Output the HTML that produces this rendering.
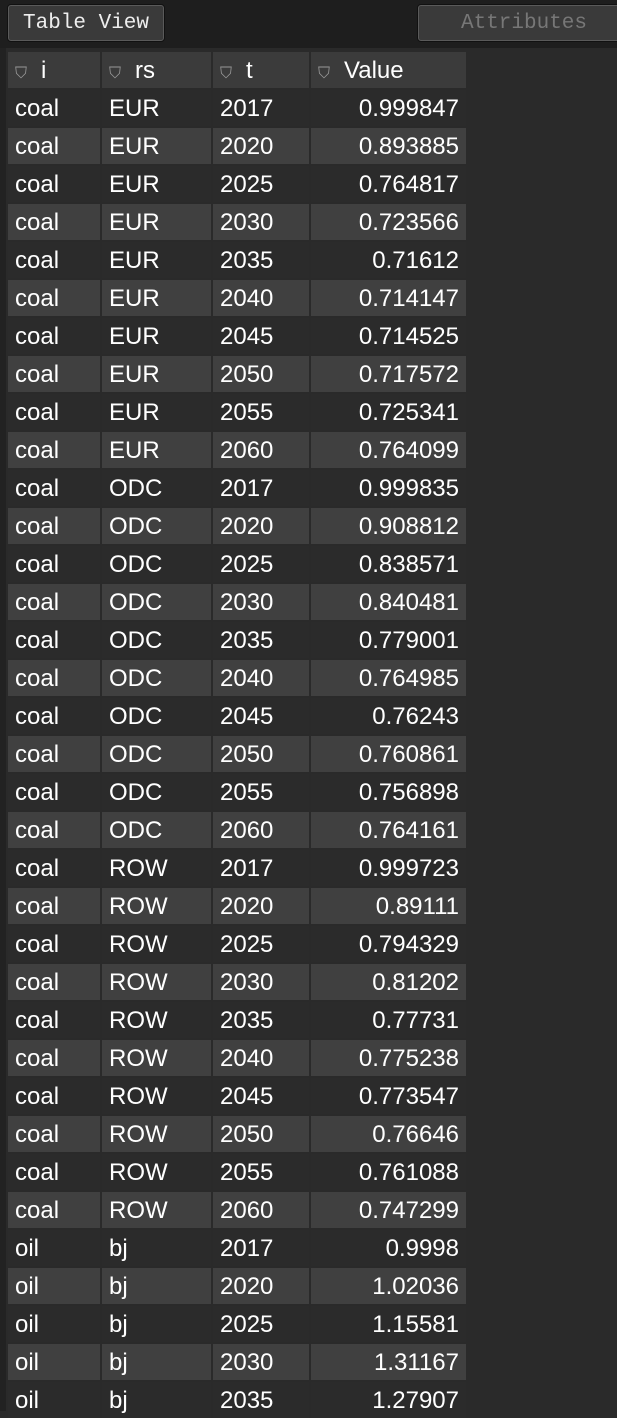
<!DOCTYPE html>
<html><head><meta charset="utf-8"><style>
body{margin:0;width:617px;height:1411px;overflow:hidden;background:#2a2a2a;font-family:"Liberation Sans","Noto Sans CJK SC",sans-serif;position:relative}
#top{position:absolute;left:0;top:0;width:617px;height:48px;background:#1e1e1e}
.btn{position:absolute;top:5px;height:34px;border:1px solid #5a5a5a;border-radius:3px;background:#3a3a3a;font-family:"Liberation Mono",monospace;font-size:21px;line-height:36px;text-align:center;box-shadow:0 0 0 1px #111}
#strip{position:absolute;left:0;top:48px;width:6px;height:1363px;background:#222}
#tbl{position:absolute;left:8px;top:52px}
.c{position:absolute;height:36px;line-height:37px;color:#fff;font-size:24px;box-sizing:border-box;padding:0 7px;white-space:nowrap;overflow:hidden}
.h{background:#3b3b3b}
.r0{background:#2b2b2b}.r1{background:#404040}
.num{text-align:right}
.ic{display:inline-block;color:#999;font-size:16px;margin-right:14px}
</style></head><body>
<div id="top"></div>
<div class="btn" style="left:8px;width:154px;color:#eee">Table View</div>
<div class="btn" style="left:418px;width:210px;color:#777">Attributes</div>
<div id="strip"></div>
<div id="tbl"></div>
<script>
const colI=["coal","coal","coal","coal","coal","coal","coal","coal","coal","coal","coal","coal","coal","coal","coal","coal","coal","coal","coal","coal","coal","coal","coal","coal","coal","coal","coal","coal","coal","coal","oil","oil","oil","oil","oil"];
const colRs=["EUR","EUR","EUR","EUR","EUR","EUR","EUR","EUR","EUR","EUR","ODC","ODC","ODC","ODC","ODC","ODC","ODC","ODC","ODC","ODC","ROW","ROW","ROW","ROW","ROW","ROW","ROW","ROW","ROW","ROW","bj","bj","bj","bj","bj"];
const colT=["2017","2020","2025","2030","2035","2040","2045","2050","2055","2060","2017","2020","2025","2030","2035","2040","2045","2050","2055","2060","2017","2020","2025","2030","2035","2040","2045","2050","2055","2060","2017","2020","2025","2030","2035"];
const colV=["0.999847","0.893885","0.764817","0.723566","0.71612","0.714147","0.714525","0.717572","0.725341","0.764099","0.999835","0.908812","0.838571","0.840481","0.779001","0.764985","0.76243","0.760861","0.756898","0.764161","0.999723","0.89111","0.794329","0.81202","0.77731","0.775238","0.773547","0.76646","0.761088","0.747299","0.9998","1.02036","1.15581","1.31167","1.27907"];
const headers=["i","rs","t","Value"];
const lefts=[0,94,205,303], widths=[92,109,96,155];
const tbl=document.getElementById('tbl');
headers.forEach((h,k)=>{
  const d=document.createElement('div');
  d.className='c h';
  d.style.left=lefts[k]+'px';d.style.top='0px';d.style.width=widths[k]+'px';
  d.innerHTML='<span class="ic">⛉</span>'+h;
  
  
  tbl.appendChild(d);
});
for(let r=0;r<colI.length;r++){
  const vals=[colI[r],colRs[r],colT[r],colV[r]];
  vals.forEach((v,k)=>{
    const d=document.createElement('div');
    d.className='c r'+(r%2)+(k===3?' num':'');
    d.style.left=lefts[k]+'px';d.style.top=(38+38*r)+'px';d.style.width=widths[k]+'px';
    d.textContent=v;
    
    
    tbl.appendChild(d);
  });
}
</script>
</body></html>
